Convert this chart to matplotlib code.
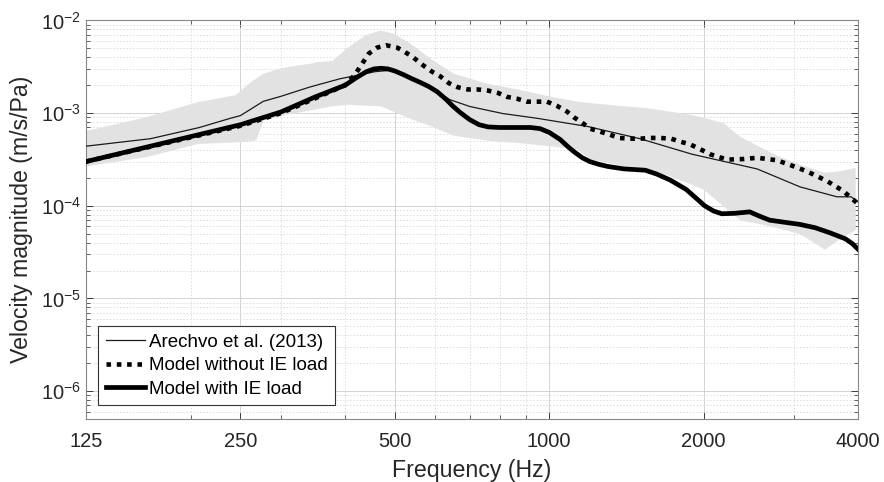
import numpy as np
import matplotlib
matplotlib.use("Agg")
import matplotlib.pyplot as plt
from matplotlib.ticker import FixedLocator, LogLocator, NullFormatter

plt.rcParams['font.family'] = ['Liberation Sans', 'DejaVu Sans']
plt.rcParams['mathtext.default'] = 'regular'

# Arechvo et al. (2013) measured mean
f_meas = [125, 167, 208, 239, 250, 277, 300, 341, 391, 457, 490, 520, 560, 600, 640,
          700, 812, 947, 1098, 1185, 1503, 1900, 2543, 3083, 3640, 3880, 4000]
v_meas = [4.4e-4, 5.3e-4, 7.0e-4, 8.8e-4, 9.4e-4, 1.34e-3, 1.52e-3, 1.91e-3, 2.35e-3, 2.8e-3, 2.9e-3,
          2.65e-3, 2.2e-3, 1.75e-3, 1.4e-3, 1.18e-3, 9.9e-4, 8.8e-4, 7.7e-4, 7.2e-4, 5.3e-4,
          3.6e-4, 2.5e-4, 1.6e-4, 1.25e-4, 1.25e-4, 1.1e-4]

# measurement spread (shaded band)
f_band = [125, 164, 206, 244, 262, 268, 277, 300, 346, 352, 377, 403, 437, 468, 496, 535,
          583, 649, 756, 877, 1017, 1130, 1200, 1400, 1540, 1720, 1900, 2000, 2182, 2355,
          2543, 2780, 3083, 3440, 3700, 3950]
band_hi = [6.5e-4, 9.2e-4, 1.33e-3, 1.58e-3, 2.2e-3, 2.4e-3, 2.7e-3, 3.1e-3, 3.5e-3, 3.6e-3,
           3.7e-3, 5.1e-3, 7.0e-3, 7.9e-3, 7.3e-3, 5.7e-3, 4.0e-3, 2.7e-3, 2.1e-3, 1.8e-3,
           1.5e-3, 1.35e-3, 1.3e-3, 1.2e-3, 1.15e-3, 1.05e-3, 9.6e-4, 9.0e-4, 7.9e-4, 5.6e-4,
           4.5e-4, 3.5e-4, 2.8e-4, 2.3e-4, 2.4e-4, 2.6e-4]
band_lo = [2.7e-4, 3.4e-4, 4.7e-4, 4.9e-4, 5.0e-4, 5.2e-4, 8.5e-4, 9.5e-4, 1.1e-3, 1.12e-3,
           1.2e-3, 1.25e-3, 1.22e-3, 1.2e-3, 1.05e-3, 8.8e-4, 7.4e-4, 5.8e-4, 5.1e-4, 4.8e-4,
           4.4e-4, 4.1e-4, 3.2e-4, 2.7e-4, 2.5e-4, 2.1e-4, 1.7e-4, 1.5e-4, 1.0e-4, 7.0e-5,
           6.5e-5, 5.8e-5, 5.0e-5, 3.4e-5, 4.5e-5, 5.5e-5]

# model without inner-ear load
f_noie = [125, 250, 300, 350, 400, 418, 433, 445, 462, 481, 505, 522, 540, 567, 591, 613,
          638, 664, 695, 726, 760, 795, 827, 866, 905, 947, 990, 1035, 1083, 1118, 1159,
          1201, 1308, 1368, 1431, 1503, 1572, 1645, 1728, 1807, 1882, 1959, 2060, 2222,
          2400, 2543, 2780, 2980, 3182, 3480, 3740, 4000]
v_noie = [3.0e-4, 7.3e-4, 1.0e-3, 1.45e-3, 2.0e-3, 2.6e-3, 3.5e-3, 4.4e-3, 5.1e-3, 5.4e-3,
          5.1e-3, 4.6e-3, 4.1e-3, 3.3e-3, 2.8e-3, 2.5e-3, 2.1e-3, 1.9e-3, 1.8e-3, 1.8e-3,
          1.75e-3, 1.65e-3, 1.5e-3, 1.43e-3, 1.33e-3, 1.33e-3, 1.33e-3, 1.2e-3, 1.04e-3,
          9.0e-4, 7.9e-4, 6.8e-4, 5.9e-4, 5.4e-4, 5.3e-4, 5.3e-4, 5.4e-4, 5.4e-4, 5.3e-4,
          4.9e-4, 4.6e-4, 4.15e-4, 3.6e-4, 3.15e-4, 3.2e-4, 3.3e-4, 3.1e-4, 2.7e-4,
          2.35e-4, 1.85e-4, 1.45e-4, 1.05e-4]

# model with inner-ear load
f_ie = [125, 250, 300, 350, 400, 420, 440, 455, 470, 485, 500, 520, 540, 560, 583, 605,
        630, 650, 670, 700, 730, 760, 800, 920, 960, 1000, 1050, 1090, 1120, 1160, 1200,
        1250, 1300, 1400, 1540, 1620, 1720, 1850, 1930, 2010, 2090, 2170, 2300, 2460,
        2560, 2690, 2900, 3080, 3300, 3530, 3780, 3900, 4000]
v_ie = [3.0e-4, 7.5e-4, 1.03e-3, 1.5e-3, 2.0e-3, 2.4e-3, 2.8e-3, 3.0e-3, 3.05e-3, 3.0e-3,
        2.85e-3, 2.6e-3, 2.35e-3, 2.15e-3, 1.93e-3, 1.7e-3, 1.4e-3, 1.18e-3, 1.02e-3, 8.5e-4,
        7.5e-4, 7.1e-4, 7.0e-4, 7.0e-4, 6.8e-4, 6.2e-4, 5.2e-4, 4.3e-4, 3.8e-4, 3.3e-4,
        3.0e-4, 2.8e-4, 2.66e-4, 2.5e-4, 2.42e-4, 2.2e-4, 1.9e-4, 1.5e-4, 1.22e-4, 1.0e-4,
        8.8e-5, 8.2e-5, 8.3e-5, 8.6e-5, 7.8e-5, 7.0e-5, 6.6e-5, 6.3e-5, 5.8e-5, 5.1e-5,
        4.4e-5, 3.9e-5, 3.4e-5]

xticks = [125, 250, 500, 1000, 2000, 4000]
yticks = [1e-6, 1e-5, 1e-4, 1e-3, 1e-2]
ytick_labels = [r'$10^{-6}$', r'$10^{-5}$', r'$10^{-4}$', r'$10^{-3}$', r'$10^{-2}$']

fig = plt.figure(figsize=(8.84, 4.82), dpi=100)
ax = fig.add_axes([0.0973, 0.1307, 0.8733, 0.8268])

ax.fill_between(f_band, band_lo, band_hi, color='#e2e2e2', linewidth=0, zorder=1)
ax.plot(f_meas, v_meas, color='#1a1a1a', lw=0.9, label='Arechvo et al. (2013)', zorder=3)
ax.plot(f_noie, v_noie, color='black', lw=3.3, linestyle=(0, (1, 1.25)),
        dash_capstyle='butt', label='Model without IE load', zorder=4)
ax.plot(f_ie, v_ie, color='black', lw=3.4, label='Model with IE load', zorder=5)

ax.set_xscale('log')
ax.set_yscale('log')
ax.set_xlim(125, 4000)
ax.set_ylim(5e-7, 1e-2)

ax.xaxis.set_major_locator(FixedLocator(xticks))
ax.set_xticklabels([str(t) for t in xticks])
ax.xaxis.set_minor_locator(LogLocator(base=10, subs=np.arange(1, 10)))
ax.xaxis.set_minor_formatter(NullFormatter())
ax.yaxis.set_major_locator(FixedLocator(yticks))
ax.set_yticklabels(ytick_labels)
ax.yaxis.set_minor_locator(LogLocator(base=10, subs=np.arange(2, 10)))
ax.yaxis.set_minor_formatter(NullFormatter())

ax.grid(True, which='major', color='#cccccc', lw=0.6, linestyle='-')
ax.grid(True, which='minor', color='#dadada', lw=0.6, linestyle=(0, (2, 2)))
ax.set_axisbelow(True)

ax.tick_params(which='both', direction='in', top=True, right=True, colors='#262626',
               labelsize=14.5)
ax.tick_params(which='major', length=5, width=0.6)
ax.tick_params(which='minor', length=3, width=0.5)
ax.tick_params(axis='x', pad=9)
for s in ax.spines.values():
    s.set_color('#888888')
    s.set_linewidth(0.8)

ax.set_xlabel('Frequency (Hz)', fontsize=16.7, color='#262626', labelpad=6)
ax.set_ylabel('Velocity magnitude (m/s/Pa)', fontsize=16.7, color='#262626', labelpad=6)

leg = ax.legend(loc='lower left', bbox_to_anchor=(0.016, 0.034), borderaxespad=0,
                fontsize=13.5, fancybox=False, framealpha=1, edgecolor='#333333',
                handlelength=2.1, handletextpad=0.2, labelspacing=0.35, borderpad=0.4)
leg.get_frame().set_linewidth(0.8)

fig.savefig('out.png', dpi=100)
